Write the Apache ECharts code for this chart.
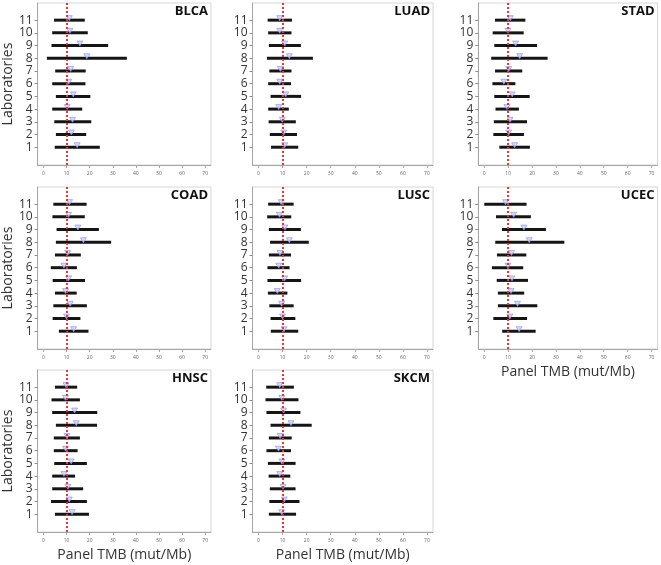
<!DOCTYPE html>
<html>
<head>
<meta charset="utf-8">
<script src="https://cdn.jsdelivr.net/npm/echarts@6/dist/echarts.min.js"></script>
<style>
  html, body { margin: 0; padding: 0; background: #fff; }
  #chart { width: 661px; height: 565px; }
</style>
</head>
<body>
<div id="chart"></div>
<script>
// ===== data (lab 1 .. 11) =====
const labs = [1, 2, 3, 4, 5, 6, 7, 8, 9, 10, 11]
const xTicks = [0, 10, 20, 30, 40, 50, 60, 70]
const refTmb = 10

const blcaLow  = [4.9, 5.4, 4.7, 3.8, 5.4, 3.8, 5.1, 1.5, 3.5, 3.8, 4.6]
const blcaHigh = [24.4, 18.5, 20.7, 16.8, 20.3, 18.2, 18.3, 36.1, 28.0, 19.2, 17.9]
const blcaMed  = [14.6, 12.1, 12.6, 10.3, 12.9, 11.0, 11.8, 18.8, 15.8, 11.5, 11.2]

const luadLow  = [5.2, 4.7, 4.2, 4.0, 5.0, 4.0, 4.5, 3.5, 4.3, 4.0, 3.8]
const luadHigh = [16.5, 16.0, 15.5, 12.6, 17.7, 13.5, 13.7, 22.6, 17.6, 13.7, 13.9]
const luadMed  = [10.9, 10.5, 9.9, 8.4, 11.3, 8.8, 9.1, 12.8, 10.9, 8.8, 8.8]

const stadLow  = [6.3, 3.8, 4.0, 4.7, 4.2, 3.4, 4.5, 2.9, 4.2, 3.5, 4.5]
const stadHigh = [19.1, 16.6, 17.9, 14.5, 19.0, 13.0, 15.9, 26.5, 22.1, 16.5, 17.2]
const stadMed  = [12.7, 10.2, 10.8, 9.5, 11.7, 8.2, 10.2, 14.8, 13.1, 9.9, 10.9]

const coadLow  = [6.7, 4.0, 4.3, 5.0, 4.0, 3.2, 5.0, 5.4, 5.7, 3.9, 4.3]
const coadHigh = [19.5, 16.0, 18.8, 14.4, 18.0, 14.5, 16.2, 29.3, 24.0, 17.9, 18.7]
const coadMed  = [13.1, 10.0, 11.6, 9.6, 10.9, 8.9, 10.5, 17.3, 14.9, 10.9, 11.3]

const luscLow  = [5.1, 5.0, 4.5, 3.9, 3.7, 3.7, 4.3, 4.8, 4.3, 3.6, 4.0]
const luscHigh = [16.5, 15.3, 14.6, 12.0, 17.7, 12.9, 13.5, 20.9, 17.6, 13.6, 14.6]
const luscMed  = [10.6, 10.0, 9.6, 7.8, 10.9, 8.4, 8.9, 12.8, 11.0, 8.7, 9.4]

const ucecLow  = [7.5, 3.8, 5.7, 5.7, 5.2, 3.2, 5.3, 4.6, 7.4, 4.9, 0.0]
const ucecHigh = [21.5, 17.9, 22.2, 16.7, 18.3, 16.3, 17.6, 33.5, 25.8, 19.5, 17.7]
const ucecMed  = [14.6, 10.7, 13.9, 11.2, 11.6, 9.9, 11.4, 18.8, 16.6, 12.3, 8.9]

const hnscLow  = [5.0, 3.3, 3.8, 3.8, 4.7, 4.5, 4.5, 5.4, 3.8, 3.5, 5.0]
const hnscHigh = [19.7, 18.8, 17.2, 13.7, 18.8, 14.8, 15.8, 23.2, 23.3, 15.8, 14.6]
const hnscMed  = [12.4, 11.2, 10.6, 8.9, 12.0, 9.6, 10.2, 14.2, 13.5, 9.5, 9.8]

const skcmLow  = [4.3, 4.5, 4.7, 4.2, 3.9, 3.3, 4.3, 5.0, 3.3, 2.9, 3.2]
const skcmHigh = [15.6, 17.0, 15.4, 13.2, 15.4, 13.5, 13.8, 22.1, 17.4, 16.6, 14.7]
const skcmMed  = [9.6, 10.7, 10.2, 8.8, 9.7, 8.3, 9.0, 13.5, 10.4, 9.7, 8.8]

const panels = [
  { name: 'BLCA', low: blcaLow, high: blcaHigh, med: blcaMed },
  { name: 'LUAD', low: luadLow, high: luadHigh, med: luadMed },
  { name: 'STAD', low: stadLow, high: stadHigh, med: stadMed },
  { name: 'COAD', low: coadLow, high: coadHigh, med: coadMed },
  { name: 'LUSC', low: luscLow, high: luscHigh, med: luscMed },
  { name: 'UCEC', low: ucecLow, high: ucecHigh, med: ucecMed },
  { name: 'HNSC', low: hnscLow, high: hnscHigh, med: hnscMed },
  { name: 'SKCM', low: skcmLow, high: skcmHigh, med: skcmMed },
]

// ===== layout =====
const FONT = '"Open Sans", sans-serif'
const colLeft = [31, 252.5, 478.3]
const colWidth = [180, 180.5, 179.2]
const rowTop = [3, 187, 370]
const GRID_H = 162
const xNamePanels = ['UCEC', 'HNSC', 'SKCM']

function renderRange(params, api) {
  const a = api.coord([api.value(0), api.value(2)])
  const b = api.coord([api.value(1), api.value(2)])
  return {
    type: 'line',
    shape: { x1: a[0], y1: a[1], x2: b[0], y2: b[1] },
    style: { stroke: '#151515', lineWidth: 3 },
  }
}

const grid = [], xAxis = [], yAxis = [], series = [], title = []

panels.forEach((p, i) => {
  const row = Math.floor(i / 3)
  const col = i % 3
  const left = colLeft[col]
  const width = colWidth[col]

  grid.push({
    left, top: rowTop[row], width, height: GRID_H,
    show: true, borderColor: '#d6d6d6', borderWidth: 1,
  })

  xAxis.push({
    gridIndex: i,
    type: 'value',
    min: -2.5,
    max: 72.5,
    axisLine: { show: true, onZero: false, lineStyle: { color: '#a6a6a6', width: 1 } },
    axisTick: { show: true, customValues: xTicks, length: 3, lineStyle: { color: '#a6a6a6' } },
    axisLabel: { customValues: xTicks, fontSize: 5, color: '#666', margin: 6, fontFamily: FONT },
    splitLine: { show: false },
    name: xNamePanels.includes(p.name) ? 'Panel TMB (mut/Mb)' : '',
    nameLocation: 'middle',
    nameGap: 16,
    nameTextStyle: { fontSize: 14, color: '#333', fontFamily: FONT },
  })

  yAxis.push({
    gridIndex: i,
    type: 'value',
    min: -0.4,
    max: 12.35,
    axisLine: { show: true, onZero: false, lineStyle: { color: '#a6a6a6', width: 1 } },
    axisTick: { show: true, customValues: labs, length: 3, lineStyle: { color: '#8c8c8c' } },
    axisLabel: { customValues: labs, fontSize: 12, color: '#333', margin: 5, fontFamily: FONT },
    splitLine: { show: false },
    name: col === 0 ? 'Laboratories' : '',
    nameLocation: 'middle',
    nameGap: 20,
    nameTextStyle: { fontSize: 14, color: '#333', fontFamily: FONT },
  })

  title.push({
    text: p.name,
    right: 661 - (left + width) + 3,
    top: rowTop[row] + 2,
    padding: 0,
    textStyle: { fontSize: 13, fontWeight: 'bold', color: '#111', fontFamily: FONT },
  })

  series.push({
    type: 'custom',
    xAxisIndex: i,
    yAxisIndex: i,
    renderItem: renderRange,
    encode: { x: [0, 1], y: 2 },
    data: labs.map((l, k) => [p.low[k], p.high[k], l]),
    silent: true,
    z: 2,
  })

  series.push({
    type: 'line',
    xAxisIndex: i,
    yAxisIndex: i,
    data: [],
    silent: true,
    z: 3,
    markLine: {
      silent: true,
      symbol: 'none',
      label: { show: false },
      lineStyle: { color: '#e8343a', type: [2, 2], width: 2 },
      data: [{ xAxis: refTmb }],
    },
  })

  series.push({
    type: 'scatter',
    xAxisIndex: i,
    yAxisIndex: i,
    data: labs.map((l, k) => [p.med[k], l]),
    symbol: 'triangle',
    symbolRotate: 180,
    symbolSize: [6, 5],
    symbolOffset: [0, -2],
    itemStyle: { color: '#cdcff8', borderColor: '#8a90ea', borderWidth: 0.8 },
    silent: true,
    z: 4,
  })
})

const chart = echarts.init(document.getElementById('chart'))
chart.setOption({
  animation: false,
  backgroundColor: '#fff',
  title,
  grid,
  xAxis,
  yAxis,
  series,
})
</script>
</body>
</html>
